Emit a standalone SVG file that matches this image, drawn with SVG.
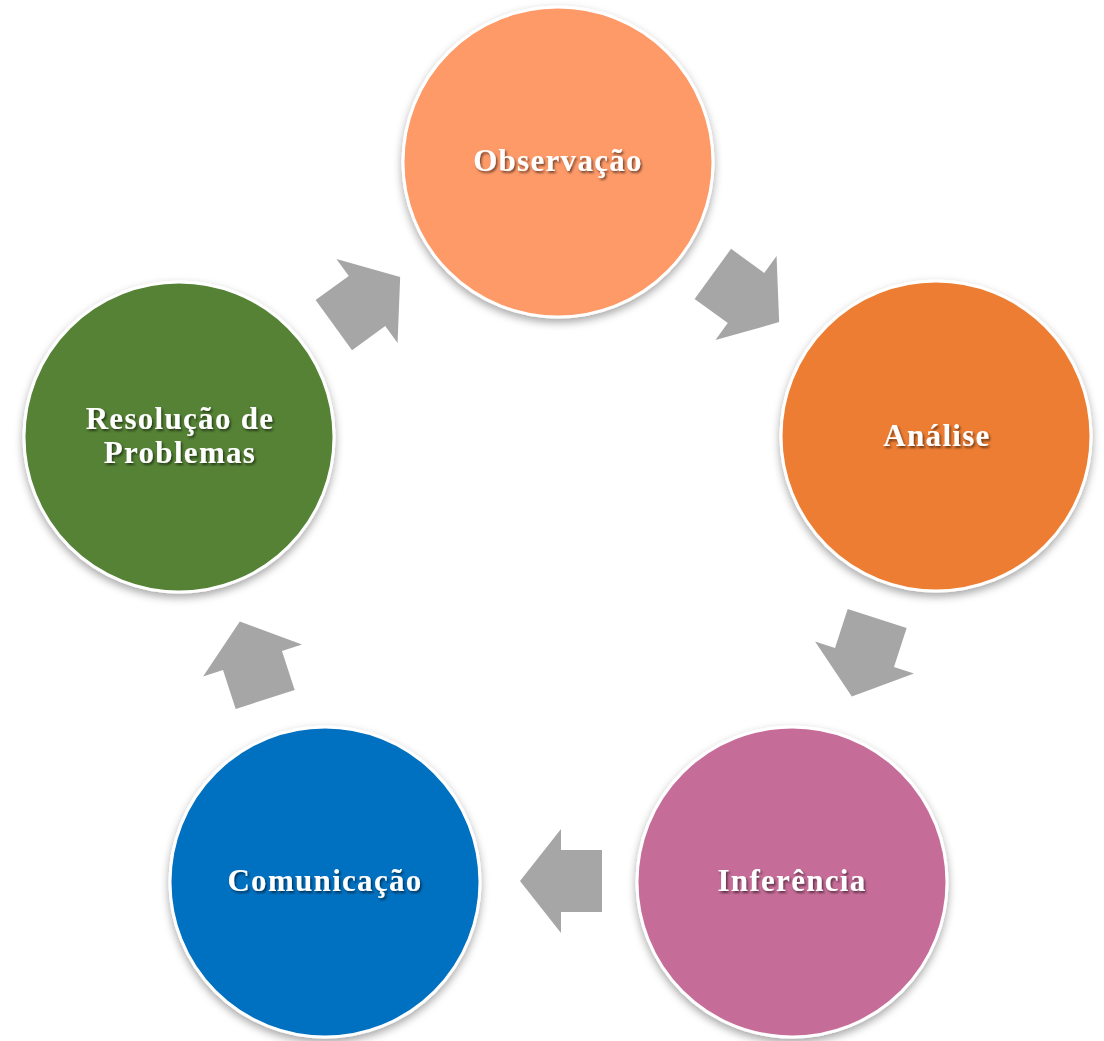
<svg xmlns="http://www.w3.org/2000/svg" width="1104" height="1041" viewBox="0 0 1104 1041">
<defs>
<filter id="cs" x="-20%" y="-20%" width="140%" height="140%">
<feDropShadow dx="0" dy="4" stdDeviation="4" flood-color="#000" flood-opacity="0.35"/>
</filter>
<filter id="ts" x="-10%" y="-30%" width="120%" height="160%">
<feDropShadow dx="1.5" dy="2" stdDeviation="1.2" flood-color="#000" flood-opacity="0.55"/>
</filter>
<polygon id="arr" points="-41,-31 0,-31 0,-52 41,0 0,52 0,31 -41,31"/>
</defs>
<style>
.node circle{stroke:#fff;stroke-width:3;filter:url(#cs)}
.node text{font-family:"Liberation Serif","DejaVu Serif",serif;font-weight:bold;font-size:31px;letter-spacing:1.3px;fill:#fff;text-anchor:middle;filter:url(#ts)}
.conn use{fill:#A6A6A6}
</style>
<rect width="1104" height="1041" fill="#fff"/>
<g id="connectors" class="conn">
<use href="#arr" transform="translate(367,301) rotate(-36)"/>
<use href="#arr" transform="translate(746,298) rotate(36)"/>
<use href="#arr" transform="translate(864.5,657.5) rotate(108)"/>
<use href="#arr" transform="translate(561,881) rotate(180)"/>
<use href="#arr" transform="translate(252.5,660.5) rotate(-108)"/>
</g>
<g id="observacao" class="node">
<circle cx="558" cy="162" r="155" fill="#FE9967"/>
<text x="558" y="171">Observação</text>
</g>
<g id="analise" class="node">
<circle cx="936" cy="436" r="155" fill="#ED7D31"/>
<text x="937" y="446">Análise</text>
</g>
<g id="inferencia" class="node">
<circle cx="792" cy="882" r="155" fill="#C66C98"/>
<text x="792" y="891">Inferência</text>
</g>
<g id="comunicacao" class="node">
<circle cx="325" cy="882" r="155" fill="#0070C0"/>
<text x="325" y="891">Comunicação</text>
</g>
<g id="resolucao" class="node">
<circle cx="179" cy="437" r="155" fill="#548235"/>
<text x="180" y="429">Resolução de</text>
<text x="180" y="463">Problemas</text>
</g>
</svg>
